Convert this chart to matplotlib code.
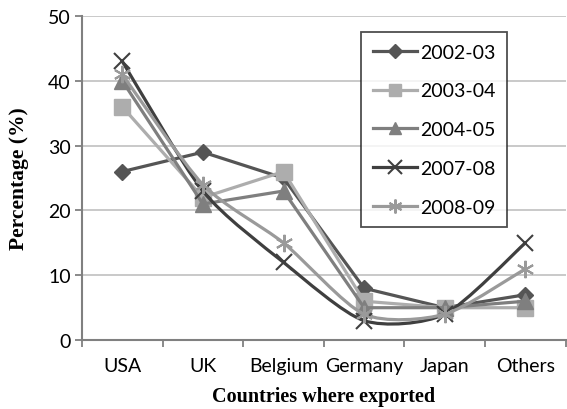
import matplotlib
matplotlib.use("Agg")
import matplotlib.pyplot as plt
import numpy as np
from matplotlib.path import Path
from matplotlib.patches import PathPatch
from matplotlib.lines import Line2D

countries = ["USA", "UK", "Belgium", "Germany", "Japan", "Others"]
years = ["2002-03", "2003-04", "2004-05", "2007-08", "2008-09"]
v_2002_03 = [26, 29, 25, 8, 5, 7]
v_2003_04 = [36, 22, 26, 6, 5, 5]
v_2004_05 = [40, 21, 23, 5, 5, 6]
v_2007_08 = [43, 23, 12, 3, 4, 15]
v_2008_09 = [41, 24, 15, 4, 4, 11]
series = [v_2002_03, v_2003_04, v_2004_05, v_2007_08, v_2008_09]

colors = ["#555555", "#adadad", "#7f7f7f", "#3f3f3f", "#9a9a9a"]
markers = ["D", "s", "^", "x", (6, 2, 0)]
msizes = [8.5, 11.5, 11, 12, 12.5]
smooth = [False, False, False, True, True]

plt.rcParams["font.family"] = ["Lato", "DejaVu Sans"]

fig = plt.figure(figsize=(5.67, 4.10), dpi=100)
ax = fig.add_axes([0.1446, 0.168, 0.853, 0.7905])

x = np.arange(len(countries))


def smooth_path(xs, ys, k=1 / 8):
    """Cubic Bezier curve passing through every point (cardinal spline)."""
    pts = np.column_stack([xs, ys]).astype(float)
    n = len(pts)
    verts = [pts[0]]
    codes = [Path.MOVETO]
    for i in range(n - 1):
        p0 = pts[i - 1] if i > 0 else pts[i]
        p1 = pts[i]
        p2 = pts[i + 1]
        p3 = pts[i + 2] if i + 2 < n else pts[i + 1]
        c1 = p1 + (p2 - p0) * k
        c2 = p2 - (p3 - p1) * k
        verts += [c1, c2, p2]
        codes += [Path.CURVE4] * 3
    return Path(verts, codes)


handles = []
for vals, col, mk, ms, sm, lab in zip(series, colors, markers, msizes, smooth, years):
    mew = 1.5 if mk == "x" or isinstance(mk, tuple) else 1.0
    if sm:
        patch = PathPatch(smooth_path(x, vals), facecolor="none", edgecolor=col,
                          lw=2.3, zorder=3, capstyle="round", joinstyle="round")
        ax.add_patch(patch)
        ax.plot(x, vals, ls="none", marker=mk, ms=ms, color=col, mec=col,
                mew=mew, zorder=4)
    else:
        ax.plot(x, vals, color=col, lw=2.3, marker=mk, ms=ms, mec=col,
                mew=mew, zorder=3)
    handles.append(Line2D([], [], color=col, lw=2.3, marker=mk, ms=ms * 0.8,
                          mec=col, mew=mew, label=lab))

ax.set_xlim(-0.5, len(countries) - 0.5)
ax.set_ylim(0, 50)
ax.set_yticks(np.arange(0, 51, 10))
ax.set_xticks(x)
ax.set_xticklabels(countries)
ax.set_xticks(np.arange(-0.5, len(countries), 1.0), minor=True)
ax.tick_params(axis="x", which="major", length=0, pad=12, labelsize=14)
ax.tick_params(axis="x", which="minor", length=5, width=1.3, color="#808080")
ax.tick_params(axis="y", length=5, width=1.3, color="#808080", labelsize=14, pad=3)

ax.grid(axis="y", color="#c0c0c0", lw=1.2, zorder=0)
ax.set_axisbelow(True)
for side in ("top", "right"):
    ax.spines[side].set_visible(False)
for side in ("left", "bottom"):
    ax.spines[side].set_color("#808080")
    ax.spines[side].set_linewidth(1.5)

ax.set_xlabel("Countries where exported", family="Liberation Serif",
              fontweight="bold", fontsize=14.5, labelpad=9)
ax.set_ylabel("Percentage (%)", family="Liberation Serif",
              fontweight="bold", fontsize=15.5, labelpad=14)

leg = ax.legend(handles=handles, loc="upper left",
                bbox_to_anchor=(361 / 567, 1 - 33 / 410),
                bbox_transform=fig.transFigure, borderaxespad=0,
                fontsize=14, handlelength=2.27, handletextpad=0.15,
                labelspacing=1.12, borderpad=0.6, frameon=True, fancybox=False)
leg.get_frame().set_edgecolor("#222222")
leg.get_frame().set_linewidth(1.3)

fig.savefig("out.png", dpi=100, facecolor="white")
